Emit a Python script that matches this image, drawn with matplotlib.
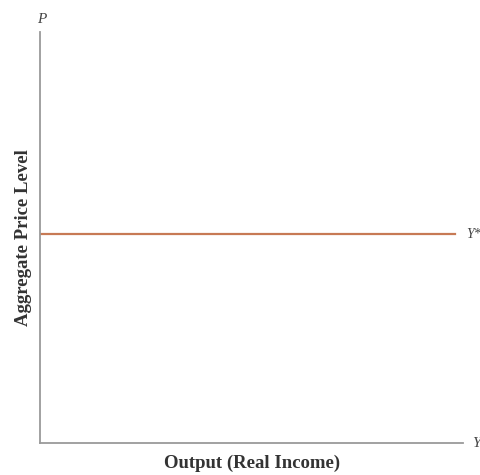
import matplotlib.pyplot as plt

plt.rcParams['font.family'] = ['Liberation Serif', 'DejaVu Serif']

# long-run aggregate supply: output fixed, price level arbitrary
price_level = [5.08, 5.08]
output = [0.0, 9.8]
x_label = 'Output (Real Income)'
y_label = 'Aggregate Price Level'
curve_label = 'Y*'

fig = plt.figure(figsize=(4.81, 4.75), dpi=100)
ax = fig.add_axes([0.083, 0.067, 0.88, 0.866])
ax.set_xlim(0, 10)
ax.set_ylim(0, 10)

for s in ['top', 'right']:
    ax.spines[s].set_visible(False)
for s in ['left', 'bottom']:
    ax.spines[s].set_color('#9a9a9a')
    ax.spines[s].set_linewidth(1.3)
ax.set_xticks([])
ax.set_yticks([])

ax.plot(output, price_level, color='#c77a55', lw=1.6)
ax.text(output[1] + 0.28, price_level[0], curve_label, fontsize=10, style='italic',
        color='#444444', va='center', ha='left')

ax.text(0.05, 10.15, 'P', fontsize=11, style='italic', color='#444444', ha='center', va='bottom',
        clip_on=False)
ax.text(10.2, 0, 'Y', fontsize=11, style='italic', color='#444444', ha='left', va='center',
        clip_on=False)

ax.set_xlabel(x_label, fontsize=13.5, fontweight='bold', color='#333333', labelpad=8)
ax.set_ylabel(y_label, fontsize=13.5, fontweight='bold', color='#333333', labelpad=6)

plt.savefig('out.png', dpi=100)
plt.close(fig)
